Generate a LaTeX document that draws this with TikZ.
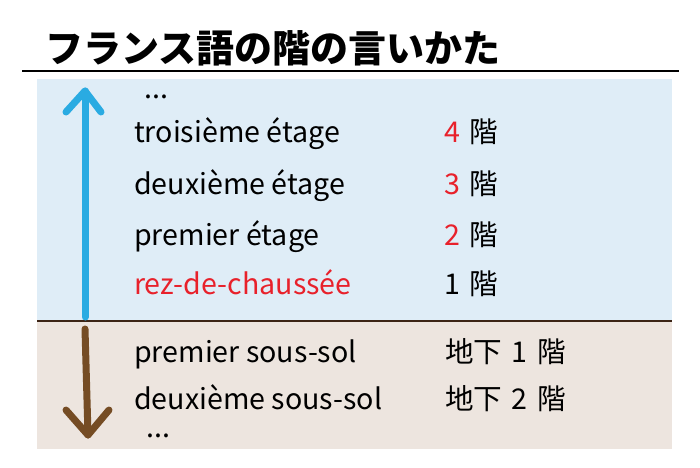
\documentclass[tikz,border=0pt]{standalone}
\usepackage{fontspec}
\setmainfont{Noto Sans CJK JP}
\definecolor{bgblue}{HTML}{DFEDF7}
\definecolor{bgbeige}{HTML}{EDE5DF}
\definecolor{redtxt}{HTML}{E8212B}
\definecolor{arrblue}{HTML}{2AABE2}
\definecolor{arrbrown}{HTML}{754C24}
\definecolor{divider}{HTML}{3C2415}
\newcommand{\gapsp}{\hspace{9.5pt}}
\tikzset{
  lbl/.style={anchor=base west, inner sep=0pt, font=\fontsize{28.6}{32}\selectfont},
  ttl/.style={anchor=base west, inner sep=0pt, font=\bfseries\fontsize{38}{42}\selectfont},
  bigarrow/.style={line width=7pt, line cap=round, line join=round}
}
\begin{document}
\begin{tikzpicture}[x=1pt, y=-1pt]
\useasboundingbox (0,0) rectangle (700,467);
% panels
\fill[bgblue] (37,79) rectangle (672,321);
\fill[bgbeige] (37,321) rectangle (672,449);
\draw[divider, line width=1.6pt] (37,321) -- (672,321);
% title and rule
\node[ttl] (title) at (45,62) {フランス語の階の言いかた};
\draw[black, line width=2pt] (22,71) -- (679,71);
% arrows
\coordinate (bu1) at (85,317);
\coordinate (bu2) at (85,91);
\draw[bigarrow, arrblue] (bu1) -- (bu2);
\draw[bigarrow, arrblue] (66,112) -- (bu2) -- (101,112);
\coordinate (bd1) at (85,329);
\coordinate (bd2) at (88,435);
\draw[bigarrow, arrbrown] (bd1) -- (bd2);
\draw[bigarrow, arrbrown] (66,410) -- (bd2) -- (109,410);
% left column
\node[lbl] (d1) at (144,98) {...};
\node[lbl] (f3) at (134,142) {troisième étage};
\node[lbl] (f2) at (134,194) {deuxième étage};
\node[lbl] (f1) at (134,245) {premier étage};
\node[lbl, text=redtxt] (f0) at (134,294) {rez-de-chaussée};
\node[lbl] (b1) at (134,362) {premier sous-sol};
\node[lbl] (b2) at (134,409) {deuxième sous-sol};
\node[lbl] (d2) at (146,437) {...};
% right column
\node[lbl] (j3) at (444,142) {\textcolor{redtxt}{4}\gapsp 階};
\node[lbl] (j2) at (444,194) {\textcolor{redtxt}{3}\gapsp 階};
\node[lbl] (j1) at (444,245) {\textcolor{redtxt}{2}\gapsp 階};
\node[lbl] (j0) at (444,294) {1\gapsp 階};
\node[lbl] (k1) at (445,362) {地下\gapsp 1\gapsp 階};
\node[lbl] (k2) at (445,409) {地下\gapsp 2\gapsp 階};
\end{tikzpicture}
\end{document}
